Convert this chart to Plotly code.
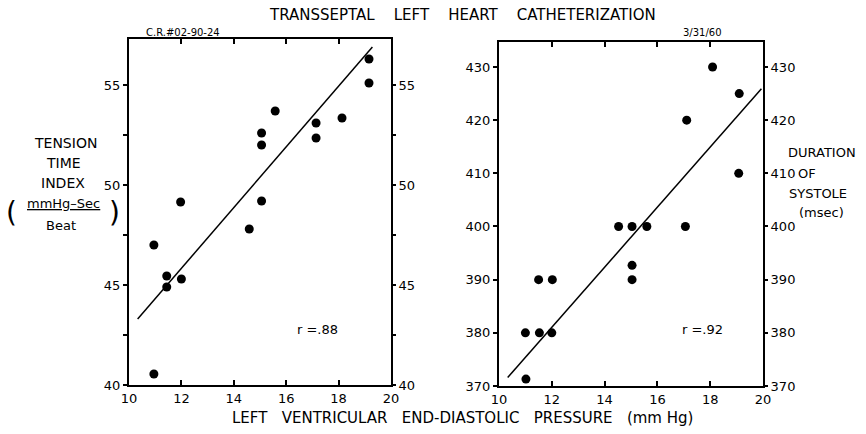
import plotly.graph_objects as go

# left panel: tension time index vs LVEDP
tti_pressure = [19.16, 19.16, 15.58, 15.06, 15.06, 17.14, 17.14, 18.13, 11.97, 15.06,
                14.59, 10.95, 11.44, 11.44, 12.0, 10.95]
tti_value = [56.3, 55.1, 53.7, 52.6, 52.0, 53.1, 52.35, 53.35, 49.15, 49.2,
             47.8, 47.0, 45.45, 44.9, 45.3, 40.55]
tti_fit_x = [10.33, 19.29]
tti_fit_y = [43.3, 56.9]

# right panel: duration of systole vs LVEDP
sys_pressure = [18.09, 19.1, 17.11, 19.08, 14.53, 15.04, 15.6, 17.06, 15.04, 15.04,
                11.5, 12.02, 11.0, 11.53, 12.0, 11.02]
sys_value = [430, 425, 420, 410, 400, 400, 400, 400, 392.7, 390,
             390, 390, 380, 380, 380, 371.3]
sys_fit_x = [10.33, 19.94]
sys_fit_y = [371.6, 425.9]

x_ticks = [10, 12, 14, 16, 18, 20]
x_labels = ['10', '12', '14', '16', '18', '20']
tti_ticks = [40, 42.5, 45, 47.5, 50, 52.5, 55]
tti_labels = ['40', '', '45', '', '50', '', '55']
sys_ticks = [370, 380, 390, 400, 410, 420, 430]
sys_labels = ['370', '380', '390', '400', '410', '420', '430']

FONT = 'DejaVu Sans'
W, H = 866, 434


def px(x):
    return x / W


def py(y):
    return 1 - y / H


fig = go.Figure()
fig.add_trace(go.Scatter(x=tti_pressure, y=tti_value, mode='markers',
                         marker=dict(color='black', size=9), xaxis='x', yaxis='y'))
fig.add_trace(go.Scatter(x=tti_fit_x, y=tti_fit_y, mode='lines',
                         line=dict(color='black', width=1.5), xaxis='x', yaxis='y'))
fig.add_trace(go.Scatter(x=sys_pressure, y=sys_value, mode='markers',
                         marker=dict(color='black', size=9), xaxis='x2', yaxis='y2'))
fig.add_trace(go.Scatter(x=sys_fit_x, y=sys_fit_y, mode='lines',
                         line=dict(color='black', width=1.5), xaxis='x2', yaxis='y2'))
# empty traces so the mirrored right-hand axes get drawn
fig.add_trace(go.Scatter(x=[None], y=[None], xaxis='x', yaxis='y3', hoverinfo='skip'))
fig.add_trace(go.Scatter(x=[None], y=[None], xaxis='x2', yaxis='y4', hoverinfo='skip'))

tickfont = dict(family=FONT, size=13, color='black')
common_x = dict(range=[10, 20], tickvals=x_ticks, ticktext=x_labels, ticks='inside',
                ticklen=5, tickwidth=1.5, tickcolor='black', mirror='ticks', showline=True,
                linewidth=2, linecolor='black', showgrid=False, zeroline=False,
                tickfont=tickfont, automargin=False)
common_y = dict(ticks='outside', ticklen=4, tickwidth=1.5, tickcolor='black', showline=True,
                mirror=True, linewidth=2, linecolor='black', showgrid=False, zeroline=False,
                tickfont=tickfont, automargin=False)
side_y = dict(side='right', ticks='outside', ticklen=4, tickwidth=1.5,
              tickcolor='black', showgrid=False, zeroline=False, showline=False,
              tickfont=tickfont, automargin=False)
dom_l = [py(385), py(39)]
dom_r = [py(386), py(42)]

fig.update_layout(
    width=W, height=H,
    margin=dict(l=0, r=0, t=0, b=0, pad=0),
    plot_bgcolor='white', paper_bgcolor='white',
    showlegend=False,
    xaxis=dict(domain=[px(129), px(391)], anchor='y', **common_x),
    xaxis2=dict(domain=[px(499), px(763)], anchor='y2', **common_x),
    yaxis=dict(domain=dom_l, anchor='x', range=[40, 57.3], tickvals=tti_ticks,
               ticktext=tti_labels, **common_y),
    yaxis2=dict(domain=dom_r, anchor='x2', range=[370, 434.7], tickvals=sys_ticks,
                ticktext=sys_labels, **common_y),
    yaxis3=dict(overlaying='y', anchor='x', range=[40, 57.3],
                tickvals=tti_ticks, ticktext=tti_labels, **side_y),
    yaxis4=dict(overlaying='y2', anchor='x2', range=[370, 434.7],
                tickvals=sys_ticks, ticktext=sys_labels, **side_y),
)


def note(text, x, y, size=13, xref='paper', yref='paper'):
    fig.add_annotation(text=text, x=x, y=y, xref=xref, yref=yref, showarrow=False,
                       xanchor='center', yanchor='middle',
                       font=dict(family=FONT, size=size, color='black'))


sp = '\u00a0' * 4
note(sp.join(['TRANSSEPTAL', 'LEFT', 'HEART', 'CATHETERIZATION']), px(462), py(15), 15)
note('C.R.#02-90-24', px(183), py(32), 10)
note('3/31/60', px(702), py(32), 10)
sp = '\u00a0' * 3
note(sp.join(['LEFT', 'VENTRICULAR', 'END-DIASTOLIC', 'PRESSURE', '(mm Hg)']),
     px(462), py(418), 15)
note('r =.88', 17.2, 42.8, 13, 'x', 'y')
note('r =.92', 17.7, 380.7, 13, 'x2', 'y2')

note('TENSION', px(65), py(143), 14)
note('TIME', px(63), py(163), 14)
note('INDEX', px(63), py(183), 14)
note('<u>mmHg\u2013Sec</u>', px(63), py(204), 13)
note('Beat', px(61), py(225), 13)
note('(', px(11), py(212), 28)
note(')', px(115), py(212), 28)

note('DURATION', px(822), py(152), 13)
note('OF', px(807), py(173), 13)
note('SYSTOLE', px(818), py(193), 13)
note('(msec)', px(821), py(212), 13)

# drop the page's default body margin so the figure sits at the window origin
fig.write_html('out.html', config={'displayModeBar': False},
               post_script="document.body.style.margin = '0';")
